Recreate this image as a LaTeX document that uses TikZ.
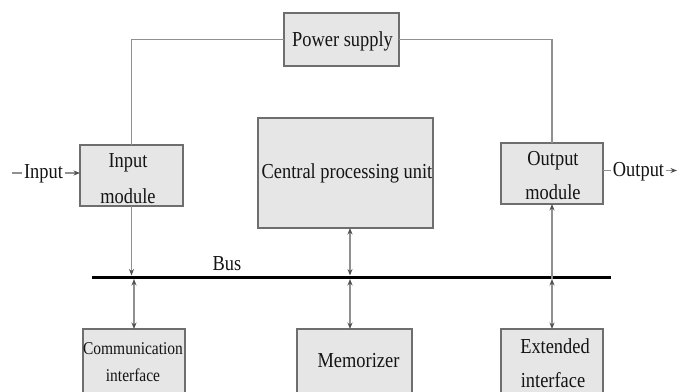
\documentclass[tikz,border=0pt]{standalone}
\usepackage{fontspec}
\usepackage{graphicx}
\setmainfont{Liberation Serif}
\usetikzlibrary{arrows.meta}
\definecolor{boxfill}{HTML}{E6E6E6}
\definecolor{boxline}{HTML}{6E6E6E}
\definecolor{wire}{HTML}{909090}
\definecolor{headc}{HTML}{505050}
\definecolor{ink}{HTML}{141414}
\newcommand{\tallx}[1]{\scalebox{1}[1.16]{#1}}
\begin{document}
\begin{tikzpicture}[x=1pt,y=-1pt,
  blk/.style={draw=boxline,fill=boxfill,line width=1.1pt,inner sep=0pt,outer sep=0pt},
  lbl/.style={inner sep=0pt,font=\fontsize{18.4}{22}\selectfont,text=ink,anchor=base},
  small/.style={lbl,font=\fontsize{15.5}{19}\selectfont},
  side/.style={lbl,inner sep=1.5pt},
  conn/.style={draw=wire,line width=1.1pt},
  tip/.style={conn,-{Stealth[length=6.5pt,width=5pt,color=headc]}},
  dtip/.style={conn,{Stealth[length=6.5pt,width=5pt,color=headc]}-{Stealth[length=6.5pt,width=5pt,color=headc]}},
  busline/.style={draw=black,line width=3pt}]
\useasboundingbox (0,0) rectangle (680,391);
\clip (0,0) rectangle (680,391);

% boxes
\node[blk,minimum width=115pt,minimum height=53pt] (power) at (341.5,39.5) {};
\node[blk,minimum width=103pt,minimum height=61pt] (inmod) at (131.5,175.5) {};
\node[blk,minimum width=175pt,minimum height=110pt] (cpu) at (345.5,173) {};
\node[blk,minimum width=102pt,minimum height=61pt] (outmod) at (552,173.5) {};
\node[blk,minimum width=102pt,minimum height=71pt] (comm) at (134,364.5) {};
\node[blk,minimum width=115pt,minimum height=71pt] (mem) at (354.5,364.5) {};
\node[blk,minimum width=102pt,minimum height=71pt] (ext) at (552,364.5) {};

% texts
\node[lbl] (tpower) at (342.5,46.5) {\tallx{Power supply}};
\node[lbl] (tin1) at (128,167) {\tallx{Input}};
\node[lbl] (tin2) at (128,203) {\tallx{module}};
\node[lbl] (tcpu) at (347,178) {\tallx{Central processing unit}};
\node[lbl] (tout1) at (553,165) {\tallx{Output}};
\node[lbl] (tout2) at (553,199) {\tallx{module}};
\node[small] (tcom1) at (133,354) {\tallx{Communication}};
\node[small] (tcom2) at (133,381) {\tallx{interface}};
\node[lbl] (tmem) at (358.5,367) {\tallx{Memorizer}};
\node[lbl] (text1) at (555,353) {\tallx{Extended}};
\node[lbl] (text2) at (553,387) {\tallx{interface}};
\node[lbl] (tbus) at (227,270) {\tallx{Bus}};
\node[side] (inlbl) at (43.5,178) {\tallx{Input}};
\node[side] (outlbl) at (638.5,176) {\tallx{Output}};

% bus
\coordinate (busL) at (92,277);
\coordinate (busR) at (611,277);
\draw[busline] (busL) -- (busR);
\coordinate (busTop) at (0,275.5);
\coordinate (busBot) at (0,279);
\coordinate (tapC) at (350,277);

% power lines
\draw[conn] (power.west) -| (inmod.north);
\draw[conn] (power.east) -| (outmod.north);

% input / output
\coordinate (inS) at (12,173);
\draw[conn] (inS) -- (inS -| inlbl.west);
\draw[tip] (inS -| inlbl.east) -- (inS -| inmod.west);
\coordinate (outS) at (677,170.5);
\draw[conn] (outS -| outmod.east) -- (outS -| outlbl.west);
\draw[tip] (outS -| outlbl.east) -- (outS);

% bus connections
\draw[tip] (inmod.south) -- (inmod.south |- busTop);
\draw[dtip] (tapC |- cpu.south) -- (tapC |- busTop);
\draw[tip] (outmod.south |- busBot) -- (outmod.south);
\draw[dtip] (comm.north |- busBot) -- (comm.north);
\draw[dtip] (tapC |- busBot) -- (tapC |- mem.north);
\draw[dtip] (ext.north |- busBot) -- (ext.north);
\end{tikzpicture}
\end{document}
